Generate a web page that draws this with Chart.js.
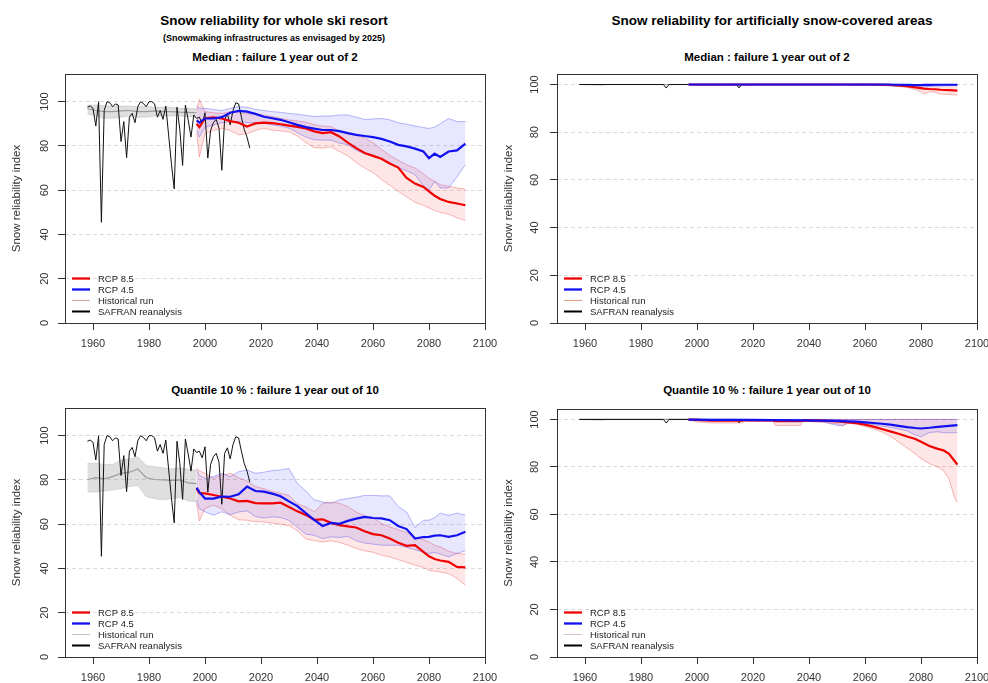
<!DOCTYPE html>
<html>
<head>
<meta charset="utf-8">
<script src="https://cdn.jsdelivr.net/npm/chart.js@4.4.1/dist/chart.umd.min.js"></script>
<style>
  body { margin: 0; width: 988px; height: 683px; overflow: hidden; background: #fff; position: relative;
         font-family: "Liberation Sans", Arial, sans-serif; }
  canvas { position: absolute; }
  .t { position: absolute; transform: translate(-50%, -50%); white-space: nowrap; font-weight: bold; color: #000; }
</style>
</head>
<body>
<div class="t" style="left:274px;top:20px;font-size:13.5px">Snow reliability for whole ski resort</div>
<div class="t" style="left:274px;top:38px;font-size:9px">(Snowmaking infrastructures as envisaged by 2025)</div>
<div class="t" style="left:275px;top:57px;font-size:11.5px">Median : failure 1 year out of 2</div>
<div class="t" style="left:772px;top:20px;font-size:13.5px">Snow reliability for artificially snow-covered areas</div>
<div class="t" style="left:767px;top:57px;font-size:11.5px">Median : failure 1 year out of 2</div>
<div class="t" style="left:275px;top:390px;font-size:11.5px">Quantile 10 % : failure 1 year out of 10</div>
<div class="t" style="left:767px;top:390px;font-size:11.5px">Quantile 10 % : failure 1 year out of 10</div>

<canvas id="c1" width="500" height="300" style="left:0;top:64px"></canvas>
<canvas id="c2" width="494" height="300" style="left:494px;top:64px"></canvas>
<canvas id="c3" width="500" height="300" style="left:0;top:398px"></canvas>
<canvas id="c4" width="494" height="300" style="left:494px;top:398px"></canvas>

<script>
// axes
const xTicks = [1960, 1980, 2000, 2020, 2040, 2060, 2080, 2100];
const yTicks = [0, 20, 40, 60, 80, 100];
const legendLabels = ["RCP 8.5", "RCP 4.5", "Historical run", "SAFRAN reanalysis"];

// SAFRAN reanalysis, whole resort
const safranYears = [1958, 1959, 1960, 1961, 1962, 1963, 1964, 1965, 1966, 1967, 1968, 1969, 1970,
  1971, 1972, 1973, 1974, 1975, 1976, 1977, 1978, 1979, 1980, 1981, 1982, 1983, 1984, 1985, 1986,
  1987, 1988, 1989, 1990, 1991, 1992, 1993, 1994, 1995, 1996, 1997, 1998, 1999, 2000, 2001, 2002,
  2003, 2004, 2005, 2006, 2007, 2008, 2009, 2010, 2011, 2012, 2013, 2014, 2015, 2016];
const safranIndex = [97.5, 98, 97, 89, 100, 45.5, 96, 100, 99.5, 97.7, 99, 98.5, 82,
  91, 74.7, 93, 94.7, 90.5, 97.7, 100, 99.2, 97.7, 100, 100, 99, 93, 96, 92, 98,
  85, 72, 60.6, 97.5, 87.5, 71.2, 98.5, 91.7, 84, 94, 92.4, 93, 90, 95, 74.5, 87,
  90.5, 92, 88, 69, 92, 94.5, 89.5, 96, 99.5, 99, 93, 87.5, 84, 79];

// historical run and RCP years, whole resort
const histYears = [1958, 1961, 1964, 1967, 1970, 1973, 1976, 1979, 1982, 1985, 1988, 1991, 1994, 1997];
const rcpYears = [1997, 1998, 2000, 2003, 2006, 2009, 2012, 2015, 2018, 2021, 2024, 2027, 2030,
  2033, 2036, 2039, 2042, 2045, 2048, 2051, 2054, 2057, 2060, 2063, 2066, 2069, 2072, 2075, 2078,
  2080, 2082, 2084, 2087, 2090, 2093];

// whole resort, median
const resMedHist = [96.8, 96, 95.5, 95.5, 95.8, 96, 95.5, 95.5, 95.8, 95.5, 95.5, 95.3, 95.2, 95];
const resMedHistHi = [98.5, 98.5, 98, 98, 98, 98, 97.8, 97.8, 97.5, 97.5, 97.5, 97, 97, 96.8];
const resMedHistLo = [94.5, 93.5, 92.5, 92.5, 93, 93.5, 93, 93, 93.5, 93.5, 93.5, 93.5, 93.3, 93];
const resMed85 = [90, 88.5, 92.5, 92.9, 92.4, 91.2, 90.5, 88.8, 90.2, 90.5, 90.3, 89.8, 89.2, 88.6,
  87.9, 86.6, 85.8, 86.2, 84.3, 81.5, 79, 76.8, 75.5, 74.2, 72.1, 70.2, 65.5, 63, 61.5, 59.5, 57.5,
  56, 54.7, 54, 53.2];
const resMed85Hi = [96, 101, 95.5, 95, 94.7, 95.5, 95, 94.5, 94.5, 94, 93.3, 92.5, 91.7, 91.3, 90.8,
  89.6, 89, 88.7, 86.7, 85.5, 85, 83.5, 81.5, 78.5, 75.8, 73.5, 71.5, 70, 67.5, 65.3, 64, 62.5, 61.8,
  61, 60.5];
const resMed85Lo = [86, 75, 85.6, 87, 88, 87, 85, 85.5, 87, 88, 87.2, 86.8, 86.4, 84.5, 81.5, 79.2,
  79, 79.6, 77.5, 75.5, 72.5, 70, 68, 64.8, 62.2, 59.5, 57, 54.5, 53.2, 52, 50.8, 50, 49.2, 47.5, 46.2];
const resMed45 = [91.5, 90.5, 92.4, 92.4, 93, 95, 95.8, 95.5, 94.5, 93.2, 92.5, 91.8, 90.7, 89.5,
  88.5, 87.8, 87.2, 87.2, 86.7, 85.8, 85, 84.5, 84, 83.2, 82, 80.5, 79.8, 78.8, 77.5, 74.5, 76.5, 75,
  77.5, 78, 81];
const resMed45Hi = [98, 97, 97, 96.5, 96, 97, 97.7, 97.5, 96.5, 96, 95.5, 95.2, 94.7, 94.3, 93.8,
  93.3, 93.5, 93.5, 94, 94, 93, 92, 92.2, 92.4, 91.8, 90.5, 89.8, 89, 88.3, 87.9, 88.5, 90, 92.4, 91, 91];
const resMed45Lo = [87, 84, 88.5, 89.5, 90.5, 91, 91, 90.5, 90.5, 90.2, 89.5, 89, 88, 86, 84, 82.8,
  82.6, 82.6, 81.3, 80.5, 78, 76.5, 75.5, 74, 72.1, 70.2, 68.8, 67, 62, 60, 64, 61, 61, 66, 71.5];

// whole resort, quantile 10 %
const resQ10Hist = [80.2, 81, 80.5, 81.5, 83, 83.5, 85, 81, 80.2, 80, 79.8, 80, 78.7, 78.3];
const resQ10HistHi = [87.5, 87.5, 87, 87, 89, 89.5, 90.5, 86.5, 86, 85.5, 85, 85.5, 84.8, 84.5];
const resQ10HistLo = [74.5, 74.5, 75, 75.5, 76, 77, 77.5, 72.5, 71.5, 71, 71.5, 72, 70.5, 70];
const resQ1085 = [76, 74, 73.9, 73.2, 72.4, 71.6, 70.3, 70.5, 69.5, 69.4, 69.4, 69.7, 67.8, 65.8,
  64.2, 62, 62.2, 60.6, 59.6, 59, 58.5, 56.8, 55.5, 55, 53.5, 51.6, 50.2, 50.5, 47.5, 45.5, 44.3,
  43.6, 43, 40.7, 40.5];
const resQ1085Hi = [85.5, 84, 83, 80.7, 82.2, 83, 81, 79.5, 77, 76, 74.8, 74, 73, 69.2, 67.8, 65.6,
  69.4, 70, 69.4, 68, 65.5, 63.8, 63, 60.3, 58.8, 57.5, 56.3, 54, 53, 52, 50.5, 49.8, 47.8, 46.8, 46.5];
const resQ1085Lo = [69.4, 61.5, 67.1, 68.6, 67, 64, 62, 61.8, 61.1, 61, 60.5, 60, 59.3, 57, 53.3,
  52.6, 52, 52.5, 51.8, 50.5, 49, 48, 47.3, 46, 45.2, 44, 42.8, 41.5, 40.5, 39.2, 38.8, 38.4, 37.7,
  35.5, 32.4];
const resQ1045 = [76.5, 74.5, 71.6, 71.6, 72.5, 72.4, 73.5, 77, 75, 74.7, 73.8, 72.6, 70.3, 68.2, 65,
  62, 59.2, 60.6, 60.2, 61.5, 62.5, 63.3, 62.8, 62.6, 61.8, 59.2, 57.8, 53.5, 54.2, 54.3, 54.8, 55,
  54.3, 55, 56.6];
const resQ1045Hi = [84.5, 82, 80.7, 81.5, 83, 81.5, 83.7, 84.5, 83, 83.5, 84.2, 84.5, 85.2, 78.4, 75,
  71, 70, 69.4, 70.9, 71.6, 72.2, 73, 73, 72.8, 72.8, 68, 65.5, 58.5, 61.8, 61.8, 63, 65, 64, 65, 64.1];
const resQ1045Lo = [70.9, 67, 65.6, 64.1, 65.6, 64.3, 65.5, 66, 63.5, 62.8, 63.3, 63, 61.8, 58.6,
  55.5, 55, 53.5, 54.3, 54, 54.5, 52.5, 51.5, 51, 50.5, 50.5, 50.5, 49.5, 48.5, 47.3, 46.8, 47.2,
  46.5, 45.2, 46.8, 48];

// artificially snow-covered areas
const artSafranYears = [1958, 1988, 1989, 1990, 2014, 2015, 2016];
const artSafranIndex = [100, 100, 98.5, 100, 100, 98.6, 100];
const artHistYears = [1958, 1966, 1968, 1997];
const artHist = [100, 100, 100, 100];
const artHistHi = [100, 100, 100, 100];
const artHistLo = [99.9, 99.6, 99.9, 99.9];

const artMedYears = [1997, 2000, 2010, 2014, 2015, 2016, 2020, 2030, 2040, 2050, 2060, 2068, 2072,
  2075, 2078, 2080, 2081, 2083, 2085, 2087, 2090, 2093];
const artMed85 = [100, 100, 100, 100, 100, 100, 100, 100, 100, 100, 100, 99.9, 99.6, 99.3, 98.8,
  98.5, 98.3, 98.1, 98, 97.8, 97.6, 97.4];
const artMed85Hi = [100, 100, 100, 100, 100, 100, 100, 100, 100, 100, 100, 100, 100, 100, 100, 100,
  100, 100, 100, 100, 100, 100];
const artMed85Lo = [99.8, 99.7, 99.7, 99.7, 99.5, 99.7, 99.8, 99.8, 99.8, 99.8, 99.7, 99.5, 99.2,
  98.8, 97.8, 97, 96, 97, 96.8, 96, 95.8, 95.6];
const artMed45 = [100, 100, 100, 100, 100, 100, 100, 100, 100, 100, 100, 100, 99.9, 99.8, 99.7,
  99.7, 99.8, 99.8, 99.9, 99.9, 99.9, 99.9];
const artMed45Hi = [100, 100, 100, 100, 100, 100, 100, 100, 100, 100, 100, 100, 100, 100, 100, 100,
  100, 100, 100, 100, 100, 100];
const artMed45Lo = [99.8, 99.8, 99.8, 99.7, 98.7, 99.7, 99.8, 99.8, 99.8, 99.8, 99.7, 99.5, 99.2,
  99, 98.8, 98.8, 99, 99.2, 99.3, 99.4, 99.5, 99.5];

const artQ10Years = [1997, 2000, 2005, 2016, 2017, 2027, 2028, 2037, 2038, 2045, 2050, 2052, 2054,
  2057, 2060, 2063, 2066, 2069, 2072, 2075, 2078, 2080, 2083, 2086, 2088, 2090, 2092, 2093];
const artQ1085 = [99.9, 99.8, 99.5, 99.5, 99.7, 99.6, 99.3, 99.3, 99.6, 99.5, 99.2, 99, 98.8, 98.4,
  97.8, 97, 96, 95, 94, 92.8, 91.8, 90.6, 88.8, 87.6, 87, 85.5, 82.5, 81];
const artQ1085Hi = [100, 100, 100, 100, 100, 100, 100, 100, 100, 100, 100, 100, 100, 100, 100, 100,
  100, 100, 100, 100, 100, 100, 100, 100, 100, 100, 100, 100];
const artQ1085Lo = [99.7, 99, 98.5, 98.5, 99.3, 99.2, 97.5, 97.5, 99.2, 98.8, 98.2, 97.5, 98.3, 98,
  97, 96, 94.8, 93, 90.5, 88, 85.5, 83.5, 81.4, 80, 78.5, 75, 67, 65];
const artQ1045 = [99.9, 99.9, 99.8, 99.8, 99.8, 99.7, 99.7, 99.6, 99.6, 99.5, 99.4, 99.3, 99.2, 99.1,
  98.8, 98.5, 98.2, 97.8, 97.3, 96.8, 96.4, 96.2, 96.5, 96.9, 97.1, 97.3, 97.5, 97.6];
const artQ1045Hi = [100, 100, 100, 100, 100, 100, 100, 100, 100, 100, 100, 100, 100, 100, 100, 100,
  100, 100, 100, 100, 100, 100, 100, 100, 100, 100, 100, 100];
const artQ1045Lo = [99.7, 99.5, 99.5, 99.5, 99.5, 99.4, 99.4, 99.3, 99.3, 99, 97.5, 97.3, 99, 98.8,
  98.3, 97.8, 97.2, 96.6, 96, 95.2, 93.5, 92.7, 94.5, 94.8, 94.5, 94.4, 94.4, 94.4];

const RED = "#f00000", BLUE = "#1010f0";
const FONT = "'Liberation Sans', Arial, sans-serif";

function pts(xs, ys) { return xs.map((x, i) => ({x: x, y: ys[i]})); }

function line(xs, ys, color, width, order) {
  return {data: pts(xs, ys), borderColor: color, borderWidth: width, fill: false, order: order};
}

// hi edge then lo edge filled back to hi
function band(xs, hi, lo, edge, fill, order) {
  return [
    {data: pts(xs, hi), borderColor: edge, borderWidth: 0.8, fill: false, order: order},
    {data: pts(xs, lo), borderColor: edge, borderWidth: 0.8, backgroundColor: fill, fill: "-1", order: order}
  ];
}

const rFrame = {
  id: "rFrame",
  afterDraw(chart, args, o) {
    const ctx = chart.ctx, a = chart.chartArea, y = chart.scales.y;
    ctx.save();
    ctx.strokeStyle = "#333";
    ctx.lineWidth = 1;
    ctx.strokeRect(Math.round(a.left) + 0.5, Math.round(a.top) + 0.5,
      Math.round(a.right - a.left), Math.round(a.bottom - a.top));
    ctx.fillStyle = "#333";
    ctx.textAlign = "center";
    ctx.textBaseline = "middle";
    ctx.font = "11px " + FONT;
    for (const v of yTicks) {
      ctx.save();
      ctx.translate(a.left - o.tickGap, y.getPixelForValue(v));
      ctx.rotate(-Math.PI / 2);
      ctx.fillText(String(v), 0, 0);
      ctx.restore();
    }
    ctx.font = "11.5px " + FONT;
    ctx.save();
    ctx.translate(a.left - o.titleGap, (a.top + a.bottom) / 2);
    ctx.rotate(-Math.PI / 2);
    ctx.fillText("Snow reliability index", 0, 0);
    ctx.restore();
    // legend, bottom left inside the box
    const colors = [RED, BLUE, o.histColor, "#000"];
    const widths = [2.3, 2.3, 1, 2];
    ctx.font = "9.5px " + FONT;
    ctx.textAlign = "left";
    legendLabels.forEach((lab, i) => {
      const ly = a.bottom - 44.5 + i * 11;
      ctx.strokeStyle = colors[i];
      ctx.lineWidth = widths[i];
      ctx.beginPath();
      ctx.moveTo(a.left + 7, ly);
      ctx.lineTo(a.left + 25, ly);
      ctx.stroke();
      ctx.fillStyle = "#222";
      ctx.fillText(lab, a.left + 33, ly + 0.5);
    });
    ctx.restore();
  }
};

function makeChart(id, cfg) {
  new Chart(document.getElementById(id), {
    type: "line",
    data: {datasets: cfg.datasets},
    options: {
      responsive: false,
      animation: false,
      layout: {padding: {top: cfg.padTop, right: cfg.padRight, left: 0, bottom: 0}},
      elements: {point: {radius: 0}, line: {tension: 0}},
      plugins: {legend: {display: false}, tooltip: {enabled: false},
        rFrame: {tickGap: cfg.tickGap, titleGap: 48, histColor: cfg.histColor}},
      scales: {
        x: {
          type: "linear", min: 1950, max: 2100,
          afterBuildTicks: s => { s.ticks = xTicks.map(v => ({value: v})); },
          afterFit: s => { s.height = 41; s.paddingLeft = 0; s.paddingRight = 0; },
          grid: {drawOnChartArea: false, drawTicks: true, tickLength: 7, color: "#333", tickColor: "#333"},
          border: {display: false},
          ticks: {color: "#333", font: {family: FONT, size: 11}, padding: 7, maxRotation: 0, autoSkip: false,
            callback: v => String(v)}
        },
        y: {
          type: "linear", min: 0, max: cfg.yMax,
          afterBuildTicks: s => { s.ticks = yTicks.map(v => ({value: v})); },
          afterFit: s => { s.width = cfg.yWidth; s.paddingTop = 0; s.paddingBottom = 0; },
          grid: {drawTicks: true, tickLength: 7, tickColor: "#333",
            color: c => (c.tick && c.tick.value === 0) ? "rgba(0,0,0,0)" : "#dadada"},
          border: {display: false, dash: [4, 3]},
          ticks: {display: false}
        }
      }
    },
    plugins: [rFrame]
  });
}

const redEdge = "rgba(235,60,60,0.45)", redFill = "rgba(255,60,60,0.13)";
const blueEdge = "rgba(60,60,235,0.45)", blueFill = "rgba(70,70,255,0.13)";
const greyFill = "rgba(150,150,150,0.3)";

makeChart("c1", {
  padTop: 10, padRight: 15, yWidth: 65, yMax: 112.5, tickGap: 20, histColor: "#d9a8a0",
  datasets: [
    ...band(histYears, resMedHistHi, resMedHistLo, "rgba(160,160,160,0.4)", greyFill, 10),
    line(histYears, resMedHist, "#9a9a9a", 1.2, 9),
    ...band(rcpYears, resMed85Hi, resMed85Lo, redEdge, redFill, 8),
    ...band(rcpYears, resMed45Hi, resMed45Lo, blueEdge, blueFill, 7),
    line(safranYears, safranIndex, "#111", 1, 6),
    line(rcpYears, resMed85, RED, 2.2, 5),
    line(rcpYears, resMed45, BLUE, 2.2, 4)
  ]
});

makeChart("c2", {
  padTop: 10, padRight: 11, yWidth: 63, yMax: 104.4, tickGap: 22, histColor: "#e0a080",
  datasets: [
    ...band(artHistYears, artHistHi, artHistLo, "rgba(160,160,160,0.4)", greyFill, 10),
    line(artHistYears, artHist, "#9a9a9a", 1.2, 9),
    ...band(artMedYears, artMed85Hi, artMed85Lo, redEdge, redFill, 8),
    ...band(artMedYears, artMed45Hi, artMed45Lo, blueEdge, blueFill, 7),
    line(artSafranYears, artSafranIndex, "#111", 1, 6),
    line(artMedYears, artMed85, RED, 2.2, 5),
    line(artMedYears, artMed45, BLUE, 2.2, 4)
  ]
});

makeChart("c3", {
  padTop: 10, padRight: 15, yWidth: 65, yMax: 112.5, tickGap: 20, histColor: "#c8c0c0",
  datasets: [
    ...band(histYears, resQ10HistHi, resQ10HistLo, "rgba(160,160,160,0.4)", greyFill, 10),
    line(histYears, resQ10Hist, "#9a9a9a", 1.2, 9),
    ...band(rcpYears, resQ1085Hi, resQ1085Lo, redEdge, redFill, 8),
    ...band(rcpYears, resQ1045Hi, resQ1045Lo, blueEdge, blueFill, 7),
    line(safranYears, safranIndex, "#111", 1, 6),
    line(rcpYears, resQ1085, RED, 2.2, 5),
    line(rcpYears, resQ1045, BLUE, 2.2, 4)
  ]
});

makeChart("c4", {
  padTop: 11, padRight: 11, yWidth: 63, yMax: 104.4, tickGap: 22, histColor: "#d8c0c8",
  datasets: [
    ...band(artHistYears, artHistHi, artHistLo, "rgba(160,160,160,0.4)", greyFill, 10),
    line(artHistYears, artHist, "#9a9a9a", 1.2, 9),
    ...band(artQ10Years, artQ1085Hi, artQ1085Lo, redEdge, redFill, 8),
    ...band(artQ10Years, artQ1045Hi, artQ1045Lo, blueEdge, blueFill, 7),
    line(artSafranYears, artSafranIndex, "#111", 1, 6),
    line(artQ10Years, artQ1085, RED, 2.2, 5),
    line(artQ10Years, artQ1045, BLUE, 2.2, 4)
  ]
});
</script>
</body>
</html>
